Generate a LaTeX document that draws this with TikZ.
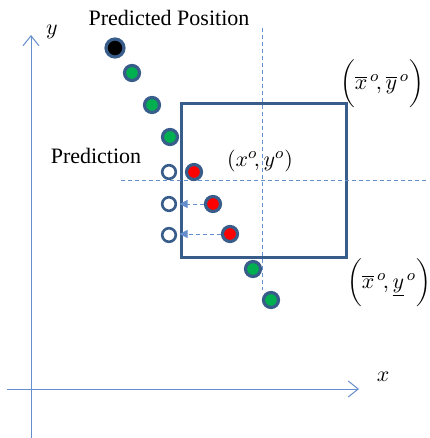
\documentclass[tikz,border=0pt]{standalone}
\usepackage{fontspec}
\setmainfont{Liberation Serif}
\usetikzlibrary{arrows.meta}
\definecolor{ptblue}{RGB}{56,93,138}
\definecolor{axblue}{RGB}{100,142,204}
\definecolor{ptgreen}{RGB}{0,176,80}
\begin{document}
\begin{tikzpicture}[x=0.5pt,y=-0.5pt,
  font=\fontsize{11}{13}\selectfont,
  pt/.style={circle,draw=ptblue,line width=1.6pt,minimum size=7.5pt,inner sep=0pt},
  gp/.style={pt,fill=ptgreen},
  rp/.style={pt,fill=red},
  op/.style={pt,fill=white,line width=1.3pt,minimum size=6.8pt},
  ax/.style={axblue,line width=0.5pt,-{Straight Barb[length=5pt,width=8pt]}},
  gd/.style={axblue,line width=0.5pt,dash pattern=on 2pt off 1.5pt},
  ar/.style={gd,-{Triangle[length=4pt,width=4pt]}},
]
\useasboundingbox (0,0) rectangle (429,438);
% axes
\coordinate (y0) at (31,438); \coordinate (y1) at (31,35);
\coordinate (x0) at (7,389);  \coordinate (x1) at (359,389);
\draw[ax] (y0) -- (y1);
\draw[ax] (x0) -- (x1);
\node (ylab) at (52,32) {$y$};
\node (xlab) at (383,377) {$x$};
% observation window
\node[draw=ptblue,line width=1.5pt,minimum width=82.5pt,minimum height=76.5pt,inner sep=0pt]
  (box) at (263.5,180.5) {};
\coordinate (vt) at (262,28);  \coordinate (vb) at (262,290);
\coordinate (hl) at (121,181); \coordinate (hr) at (427,181);
\draw[gd] (vt) -- (vb);
\draw[gd] (hl) -- (hr);
% trajectory
\node[pt,fill=black,minimum size=9pt] (p0) at (115,48) {};
\node[gp] (g1) at (132,73) {};
\node[gp] (g2) at (152,105) {};
\node[gp] (g3) at (170,137) {};
\node[gp] (g4) at (253,269) {};
\node[gp] (g5) at (271,300) {};
% measured vs predicted
\node[rp] (r1) at (194,172) {};
\node[rp] (r2) at (213,204) {};
\node[rp] (r3) at (230,234) {};
\node[op] (o1) at (169,172) {};
\node[op] (o2) at (169,204) {};
\node[op] (o3) at (169,235) {};
\draw[ar] (r2) -- (r2 -| box.west);
\draw[ar] (r3) -- (r3 -| box.west);
% labels
\node (tpred) at (169,18) {Predicted Position};
\node (tprd) at (96,156) {Prediction};
\node (tc) at (260,161) {$(x^{o}\!,y^{o})$};
\node (tur) at (382,84) {$\biggl(\overline{x}^{\,o}\!,\overline{y}^{\,o}\biggr)$};
\node (tlr) at (389,283) {$\biggl(\overline{x}^{\,o}\!,\underline{y}^{\,o}\biggr)$};
\end{tikzpicture}
\end{document}
